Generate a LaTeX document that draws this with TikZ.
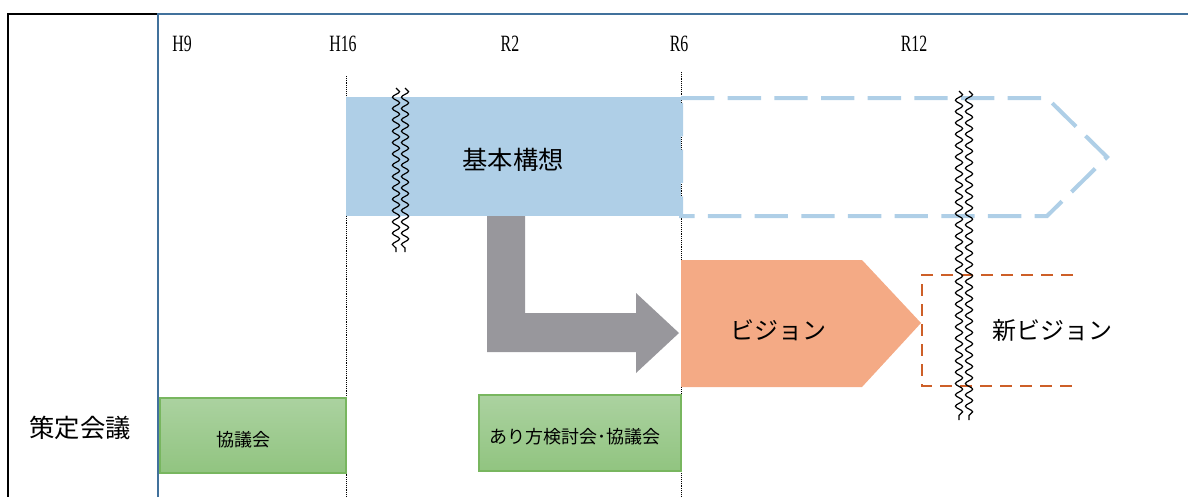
\documentclass[tikz,border=0pt]{standalone}
\usepackage{fontspec}
\setmainfont{Liberation Serif}
\newfontfamily\jpfont{Noto Sans CJK JP}
\newfontfamily\yearfont[FakeStretch=0.68]{Liberation Serif}
\usepackage{tikz}
\usetikzlibrary{positioning,decorations.pathmorphing}

\definecolor{framecol}{RGB}{65,113,156}
\definecolor{plancol}{RGB}{175,207,231}
\definecolor{arrowgray}{RGB}{152,151,156}
\definecolor{visioncol}{RGB}{244,170,133}
\definecolor{newcol}{RGB}{205,95,40}
\definecolor{meettop}{RGB}{171,210,160}
\definecolor{meetbot}{RGB}{145,196,128}
\definecolor{meetedge}{RGB}{120,182,95}

\tikzset{
  yearlabel/.style={font=\yearfont\fontsize{17.5}{17.5}\selectfont, inner sep=0pt},
  bigtext/.style={font=\jpfont\fontsize{19}{19}\selectfont, inner sep=0pt},
  midtext/.style={font=\jpfont\fontsize{18}{18}\selectfont, inner sep=0pt},
  smalltext/.style={font=\jpfont\fontsize{13.5}{13.5}\selectfont, inner sep=0pt},
  meetbox/.style={draw=meetedge, line width=0.8pt, top color=meettop, bottom color=meetbot},
  breakmark/.style={draw=black, line width=0.9pt, decorate, decoration={snake, amplitude=2.7pt, segment length=8.5pt}},
  guide/.style={densely dotted, line width=0.4pt}
}

\begin{document}
\begin{tikzpicture}[x=0.75pt, y=-0.75pt]
\useasboundingbox (0,0) rectangle (1188,497);

% frame
\draw[line width=0.8pt] (158,14) -- (8,14) -- (8,497);
\draw[framecol, line width=1.2pt] (158,497) -- (158,14) -- (1188,14);
\node[bigtext] (council) at (80,428) {策定会議};

% years
\node[yearlabel] (h9)  at (182,44) {H9};
\node[yearlabel] (h16) at (343,44) {H16};
\node[yearlabel] (r2)  at (510,44) {R2};
\node[yearlabel] (r6)  at (679,44) {R6};
\node[yearlabel] (r12) at (914,44) {R12};
\draw[guide] (346,76) -- (346,497);
\draw[guide] (681,72) -- (681,497);

% basic plan
\fill[plancol] (346,97) rectangle (681,216);
\draw[plancol, line width=3pt, dash pattern=on 25pt off 10pt] (681,98) -- (1047,98) -- (1107,157) -- (1047,216) -- (681,216) -- cycle;
\node[bigtext] (plan) at (513,160) {基本構想};

% vision
\fill[arrowgray] (487,216) -- (525,216) -- (525,313) -- (636,313) -- (636,293) -- (679,333)
  -- (636,373) -- (636,352) -- (487,352) -- cycle;
\fill[visioncol] (681,260) -- (862,260) -- (921,323) -- (862,387) -- (681,387) -- cycle;
\node[midtext] (vision) at (778,330) {ビジョン};
\draw[newcol, line width=1.5pt, dash pattern=on 9pt off 6pt] (1073,275) -- (922,275) -- (922,386) -- (1073,386);
\node[midtext] (newvision) at (1052,330) {新ビジョン};

% breaks
\foreach \bx in {396,405} \draw[breakmark] (\bx,88) -- (\bx,252);
\foreach \bx in {959,969} \draw[breakmark] (\bx,91) -- (\bx,420);

% meetings
\path[meetbox] (160,398) rectangle (346,473);
\node[smalltext] (kyogi) at (243,440) {協議会};
\path[meetbox] (479,395) rectangle (681,471);
\node[smalltext] (kento) at (575,437) {あり方検討会･協議会};
\end{tikzpicture}
\end{document}
